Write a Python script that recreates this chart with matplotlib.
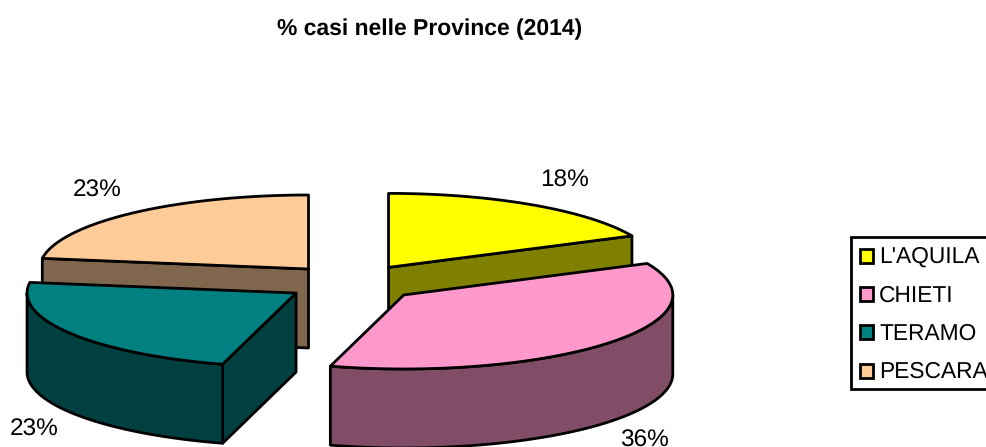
import numpy as np
import matplotlib
matplotlib.use("Agg")
import matplotlib.pyplot as plt
from matplotlib.patches import Polygon, Rectangle

plt.rcParams["font.family"] = ["Liberation Sans", "DejaVu Sans"]
plt.rcParams["text.hinting"] = "no_hinting"

# values, % of cases
province = ["L'AQUILA", "CHIETI", "TERAMO", "PESCARA"]
values = [18.0, 36.4, 22.9, 22.7]
top_colors = ["#FFFF00", "#FF99CC", "#008080", "#FFCC99"]
side_colors = ["#808000", "#804C66", "#004040", "#80664D"]
title = "% casi nelle Province (2014)"

# pie geometry in pixels of the reference
CX, CY = 352.5, 283
RX, RY = 269, 74
DEPTH = 79
EXPLODE = 0.25
LW = 2.0


def ellipse_pts(ax_, ay, a0, a1, drop=0):
    # angles in degrees, clockwise from 12 o'clock
    t = np.radians(np.linspace(a0, a1, 120))
    return np.column_stack([ax_ + RX * np.sin(t), ay - RY * np.cos(t) + drop])


def draw_slice(ax, a0, a1, top, side):
    mid = np.radians((a0 + a1) / 2)
    ax_ = CX + EXPLODE * RX * np.sin(mid)
    ay = CY - EXPLODE * RY * np.cos(mid)

    # cut faces that look towards the viewer
    for ang, visible in [(a0, np.sin(np.radians(a0)) < -1e-6), (a1, np.sin(np.radians(a1)) > 1e-6)]:
        if visible:
            edge = ellipse_pts(ax_, ay, ang, ang)[0]
            wall = [(ax_, ay), edge, edge + [0, DEPTH], (ax_, ay + DEPTH)]
            ax.add_patch(Polygon(wall, closed=True, fc=side, ec="black", lw=LW, joinstyle="round"))

    # outer rim, only the front half of the ellipse shows
    s0, s1 = max(a0, 90), min(a1, 270)
    if s1 > s0:
        upper = ellipse_pts(ax_, ay, s0, s1)
        lower = ellipse_pts(ax_, ay, s0, s1, DEPTH)[::-1]
        ax.add_patch(Polygon(np.vstack([upper, lower]), closed=True, fc=side, ec="black", lw=LW, joinstyle="round"))

    rim = ellipse_pts(ax_, ay, a0, a1)
    ax.add_patch(Polygon(np.vstack([[(ax_, ay)], rim]), closed=True, fc=top, ec="black", lw=LW, joinstyle="round"))


fig = plt.figure(figsize=(9.86, 4.47), dpi=100)
ax = fig.add_axes([0, 0, 1, 1])
ax.set_xlim(0, 986)
ax.set_ylim(447, 0)
ax.axis("off")

edges = np.concatenate([[0], np.cumsum(values)]) / sum(values) * 360
# back slices first, then the front ones
for i in [3, 0, 2, 1]:
    draw_slice(ax, edges[i], edges[i + 1], top_colors[i], side_colors[i])

ax.text(430, 29, title, ha="center", va="center", fontsize=16.5, fontweight="bold")

label_xy = [(565, 181), (644, 441), (34, 430), (97, 191)]
for v, (x, y) in zip(values, label_xy):
    ax.text(x, y, f"{v:.0f}%", ha="center", va="center", fontsize=17.6)

# legend, runs off the right edge like the reference
ax.add_patch(Rectangle((850.5, 236.5), 160, 152.5, fc="white", ec="black", lw=2))
for i, name in enumerate(province):
    y = 257 + i * 38.4
    ax.add_patch(Rectangle((859.5, y - 8.5), 13, 14, fc=top_colors[i], ec="black", lw=2))
    ax.text(879, y, name, ha="left", va="center", fontsize=16.4)

fig.savefig("out.png", dpi=100)
